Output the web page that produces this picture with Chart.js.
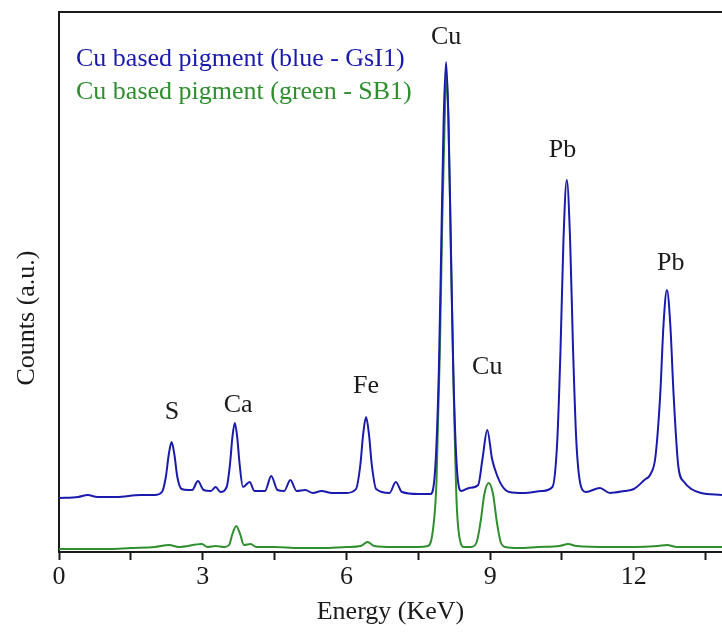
<!DOCTYPE html>
<html>
<head>
<meta charset="utf-8">
<script src="https://cdn.jsdelivr.net/npm/chart.js@4"></script>
<style>
    html, body { margin: 0; padding: 0; background: #ffffff; }
    #chartContainer { width: 722px; height: 632px; }
</style>
</head>
<body>
<div id="chartContainer"><canvas id="edsChart" width="722" height="632"></canvas></div>
<script>
// -- DATA (energy in KeV, counts in arbitrary units)

const blueEnergy = [
    0.0, 0.4, 0.6, 0.8, 1.2, 1.7, 2.0, 2.15, 2.23, 2.29, 2.35, 2.41, 2.47, 2.56, 2.7,
    2.78, 2.9, 3.02, 3.17, 3.27, 3.37, 3.5, 3.57, 3.62, 3.67, 3.72, 3.77, 3.84, 3.98, 4.08,
    4.3, 4.43, 4.56, 4.7, 4.83, 4.96, 5.14, 5.3, 5.48, 5.7, 6.0, 6.2, 6.29, 6.35, 6.41,
    6.47, 6.53, 6.62, 6.9, 7.03, 7.16, 7.5, 7.75, 7.85, 7.93, 7.98, 8.03, 8.08, 8.13, 8.18,
    8.23, 8.31, 8.4, 8.56, 8.75, 8.84, 8.94, 9.04, 9.15, 9.25, 9.4, 9.7, 10.08, 10.3, 10.4,
    10.47, 10.53, 10.6, 10.67, 10.73, 10.8, 10.9, 11.0, 11.29, 11.5, 11.8, 12.0, 12.22, 12.35, 12.45,
    12.55, 12.62, 12.69, 12.76, 12.83, 12.93, 13.05, 13.2, 13.4, 13.84
];
const blueCounts = [
    54, 55, 57, 55, 55, 57, 57, 60, 75, 97, 110, 97, 75, 63, 62,
    62, 71, 62, 61, 65, 60, 65, 88, 115, 129, 115, 88, 65, 70, 61,
    61, 76, 62, 61, 72, 61, 62, 59, 61, 59, 59, 63, 87, 118, 135,
    118, 87, 63, 59, 70, 60, 58, 58, 81, 183, 308, 433, 490, 433, 308,
    183, 81, 61, 64, 67, 93, 122, 93, 76, 66, 60, 59, 61, 65, 110,
    204, 311, 372, 311, 204, 110, 65, 60, 64, 59, 61, 63, 72, 78, 95,
    157, 228, 262, 228, 157, 85, 70, 63, 59, 57
];

const greenEnergy = [
    0.0, 0.5, 1.0, 1.5, 2.0, 2.3, 2.5, 2.98, 3.1, 3.27, 3.45, 3.55, 3.62, 3.7, 3.78,
    3.86, 4.0, 4.12, 4.5, 5.0, 5.5, 6.0, 6.3, 6.44, 6.58, 7.0, 7.5, 7.7, 7.8, 7.88,
    7.95, 8.0, 8.05, 8.09, 8.13, 8.18, 8.24, 8.3, 8.38, 8.45, 8.6, 8.72, 8.8, 8.88, 8.97,
    9.06, 9.14, 9.22, 9.32, 9.6, 10.0, 10.45, 10.63, 10.8, 11.5, 12.0, 12.5, 12.69, 12.9, 13.84
];
const greenCounts = [
    3, 3, 3, 4, 5, 7, 5, 8, 5, 6, 5, 7, 18, 26, 18,
    7, 8, 5, 5, 4, 4, 5, 6, 10, 6, 5, 5, 6, 20, 70,
    200, 330, 430, 477, 430, 300, 160, 50, 10, 5, 5, 10, 30, 58, 69,
    58, 30, 10, 5, 4, 5, 6, 8, 6, 5, 5, 6, 7, 5, 5
];

const seriesNames = ["Cu based pigment (blue - GsI1)", "Cu based pigment (green - SB1)"];
const seriesColors = ["#1a1aad", "#2f8f2f"];

// peak labels: element, energy, counts where the label sits
const peakNames = ["S", "Ca", "Fe", "Cu", "Cu", "Pb", "Pb"];
const peakEnergy = [2.36, 3.74, 6.41, 8.08, 8.94, 10.51, 12.77];
const peakLabelY = [140, 147, 166, 515, 185, 402, 289];

const xTickStep = 1.5;
const xMax = 13.84;
const yMax = 540;

const FONT = "Liberation Serif";
const INK = "#1a1a1a";

function toPoints(xs, ys) {
    return xs.map((x, i) => ({ x: x, y: ys[i] }));
}

// -- EXTRA DRAWING (frame top, legend inside plot, peak labels, y title)

const annotations = {
    id: "annotations",
    afterDraw(chart) {
        const ctx = chart.ctx;
        const area = chart.chartArea;
        const xs = chart.scales.x;
        const ys = chart.scales.y;
        ctx.save();
        // top frame line
        ctx.strokeStyle = INK;
        ctx.lineWidth = 2;
        ctx.beginPath();
        ctx.moveTo(area.left - 1, area.top);
        ctx.lineTo(area.right, area.top);
        ctx.stroke();

        ctx.font = "26px '" + FONT + "'";
        // legend
        ctx.textAlign = "left";
        ctx.textBaseline = "alphabetic";
        seriesNames.forEach((name, i) => {
            ctx.fillStyle = seriesColors[i];
            ctx.fillText(name, 76, 66 + i * 33);
        });
        // peak labels
        ctx.fillStyle = INK;
        ctx.textAlign = "center";
        ctx.textBaseline = "middle";
        peakNames.forEach((name, i) => {
            ctx.fillText(name, xs.getPixelForValue(peakEnergy[i]), ys.getPixelForValue(peakLabelY[i]));
        });
        // y axis title
        ctx.translate(27, 318);
        ctx.rotate(-Math.PI / 2);
        ctx.fillText("Counts (a.u.)", 0, 0);
        ctx.restore();
    }
};

const ctx = document.getElementById("edsChart").getContext("2d");
const chart = new Chart(ctx, {
    type: "line",
    data: {
        datasets: [
            {
                label: seriesNames[0],
                data: toPoints(blueEnergy, blueCounts),
                borderColor: seriesColors[0],
                borderWidth: 2,
                pointRadius: 0,
                cubicInterpolationMode: "monotone"
            },
            {
                label: seriesNames[1],
                data: toPoints(greenEnergy, greenCounts),
                borderColor: seriesColors[1],
                borderWidth: 2,
                pointRadius: 0,
                cubicInterpolationMode: "monotone"
            }
        ]
    },
    options: {
        responsive: false,
        animation: false,
        layout: { padding: { top: 12, right: 0, left: 0, bottom: 0 } },
        plugins: {
            legend: { display: false },
            tooltip: { enabled: false }
        },
        scales: {
            x: {
                type: "linear",
                min: 0,
                max: xMax,
                afterFit: (scale) => { scale.height = 80; },
                ticks: {
                    stepSize: xTickStep,
                    includeBounds: false,
                    autoSkip: false,
                    maxRotation: 0,
                    padding: 2,
                    color: INK,
                    font: { family: FONT, size: 26 },
                    callback: (v) => (v % 3 === 0 ? String(v) : "")
                },
                grid: {
                    drawOnChartArea: false,
                    drawTicks: true,
                    tickLength: 8,
                    tickWidth: 2,
                    color: INK
                },
                border: { display: true, color: INK, width: 2 },
                title: {
                    display: true,
                    text: "Energy (KeV)",
                    color: INK,
                    font: { family: FONT, size: 26 },
                    padding: { top: 0, bottom: 4 }
                }
            },
            y: {
                min: 0,
                max: yMax,
                afterFit: (scale) => { scale.width = 59; },
                ticks: { display: false },
                grid: { display: false },
                border: { display: true, color: INK, width: 2 }
            }
        }
    },
    plugins: [annotations]
});
</script>
</body>
</html>
